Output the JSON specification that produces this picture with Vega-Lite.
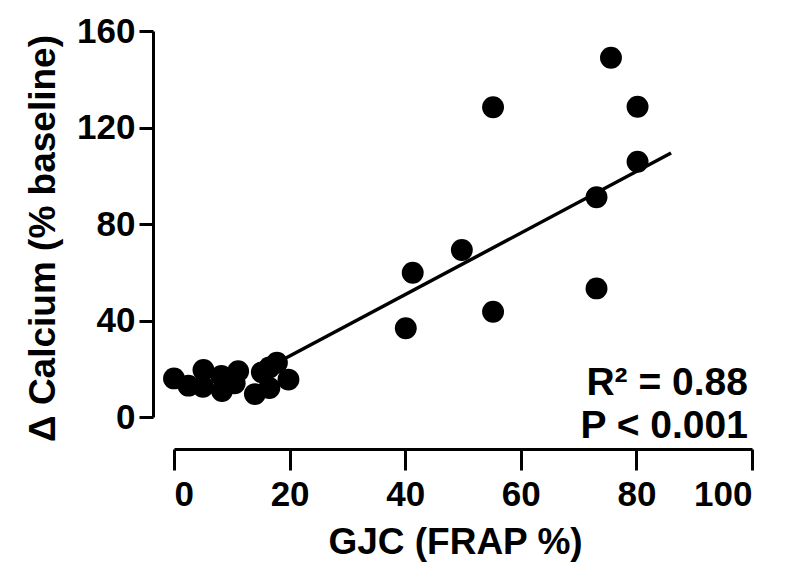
{
  "$schema": "https://vega.github.io/schema/vega-lite/v6.json",
  "width": 578,
  "height": 386,
  "autosize": "none",
  "padding": {"left": 174, "top": 31, "right": 36, "bottom": 154},
  "background": "white",
  "config": {
    "view": {"stroke": null},
    "font": "Liberation Sans",
    "axis": {
      "grid": false,
      "domainColor": "black",
      "domainWidth": 3,
      "tickColor": "black",
      "tickWidth": 3,
      "labelFont": "Liberation Sans",
      "labelFontWeight": "bold",
      "labelFontSize": 35,
      "labelColor": "black",
      "titleFont": "Liberation Sans",
      "titleFontWeight": "bold",
      "titleFontSize": 37,
      "titleColor": "black"
    }
  },
  "datasets": {
    "points": [
      {"gjc": 0, "calcium": 16},
      {"gjc": 2.5, "calcium": 13},
      {"gjc": 5.1, "calcium": 19.5},
      {"gjc": 5.0, "calcium": 12.5},
      {"gjc": 8.2, "calcium": 17},
      {"gjc": 8.3, "calcium": 10.8},
      {"gjc": 11.1, "calcium": 19},
      {"gjc": 10.5, "calcium": 14},
      {"gjc": 14.0, "calcium": 9.5},
      {"gjc": 15.2, "calcium": 18.5},
      {"gjc": 16.5, "calcium": 12},
      {"gjc": 16.5, "calcium": 20.5},
      {"gjc": 17.8, "calcium": 22.5},
      {"gjc": 19.8, "calcium": 15.5},
      {"gjc": 40.1, "calcium": 36.8},
      {"gjc": 41.3, "calcium": 59.8},
      {"gjc": 49.8, "calcium": 69.2},
      {"gjc": 55.2, "calcium": 43.6},
      {"gjc": 55.2, "calcium": 128.4},
      {"gjc": 73.1, "calcium": 53.3},
      {"gjc": 73.1, "calcium": 91.1},
      {"gjc": 75.6, "calcium": 148.9},
      {"gjc": 80.2, "calcium": 128.6},
      {"gjc": 80.2, "calcium": 105.8}
    ],
    "fit": [
      {"gjc": 14, "calcium": 17.6},
      {"gjc": 86, "calcium": 109.4}
    ],
    "notes": [
      {"gjc": 99.3, "calcium": 9.1, "label": "R² = 0.88"},
      {"gjc": 99.3, "calcium": -8.7, "label": "P < 0.001"}
    ]
  },
  "layer": [
    {
      "data": {"name": "points"},
      "mark": {"type": "circle", "size": 480, "color": "black", "opacity": 1},
      "encoding": {
        "x": {
          "field": "gjc", "type": "quantitative",
          "scale": {"domain": [0, 100], "nice": false, "zero": false},
          "axis": {"values": [0, 20, 40, 60, 80, 100], "offset": 32, "tickSize": 21, "labelPadding": 7, "title": "GJC (FRAP %)", "titlePadding": 12, "titleX": 281}
        },
        "y": {
          "field": "calcium", "type": "quantitative",
          "scale": {"domain": [0, 160], "nice": false},
          "axis": {"values": [0, 40, 80, 120, 160], "offset": 21, "tickSize": 14, "labelPadding": 4, "title": "Δ Calcium (% baseline)", "titlePadding": 14, "titleY": 207}
        }
      }
    },
    {
      "data": {"name": "fit"},
      "mark": {"type": "line", "color": "black", "strokeWidth": 3.5},
      "encoding": {
        "x": {"field": "gjc", "type": "quantitative"},
        "y": {"field": "calcium", "type": "quantitative"}
      }
    },
    {
      "data": {"name": "notes"},
      "mark": {"type": "text", "align": "right", "baseline": "alphabetic", "fontSize": 39, "fontWeight": "bold", "color": "black", "font": "Liberation Sans"},
      "encoding": {
        "x": {"field": "gjc", "type": "quantitative"},
        "y": {"field": "calcium", "type": "quantitative"},
        "text": {"field": "label"}
      }
    }
  ]
}
